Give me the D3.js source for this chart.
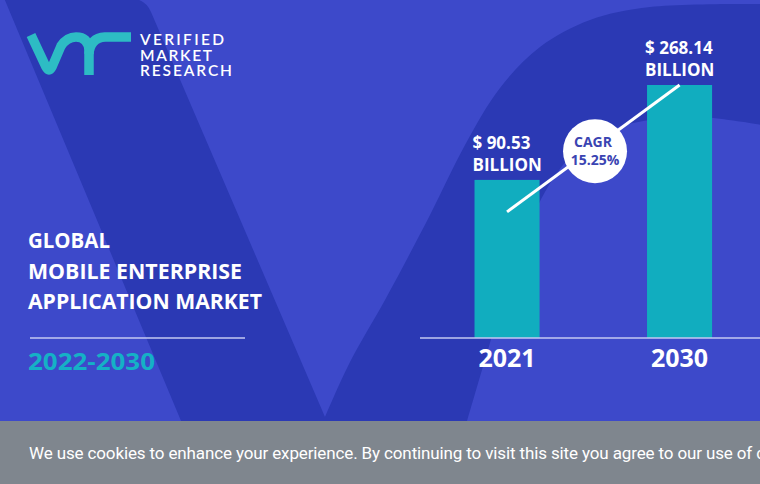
<!DOCTYPE html>
<html><head><meta charset="utf-8">
<script src="https://cdn.jsdelivr.net/npm/d3@7"></script>
<style>html,body{margin:0;padding:0;background:#3d49ca;overflow:hidden}svg{display:block}</style>
</head><body>
<script>
// ---- data ----
const years = ["2021", "2030"];
const values = [90.53, 268.14];
const valueLabels = ["$ 90.53", "$ 268.14"];
const unitLabel = "BILLION";
const cagrLabel = ["CAGR", "15.25%"];
const titleLines = ["GLOBAL", "MOBILE ENTERPRISE", "APPLICATION MARKET"];
const periodLabel = "2022-2030";
const brandLines = ["VERIFIED", "MARKET", "RESEARCH"];
const cookieText = "We use cookies to enhance your experience. By continuing to visit this site you agree to our use of cookies.";

const W = 760, H = 484;
const C = {light:"#3d49ca", dark:"#2b39b4", teal:"#11adbf", teal2:"#15b1c6", logo:"#2dbcc4", axis:"#c4c9f2", cagr:"#3a44b2", banner:"#7f868e"};

const svg = d3.select("body").append("svg").attr("width", W).attr("height", H);
svg.append("rect").attr("width", W).attr("height", H).attr("fill", C.light);

// ---- decorative V shape ----
const cr = d3.line().curve(d3.curveCatmullRom.alpha(0.5));
const outer = [[325,417],[350,362],[385,300],[430,215],[465,145],[500,88],[540,47],[590,20],[650,7],[760,4]];
const inner = [[762,125],[700,117],[650,120],[610,130],[575,152],[545,192],[520,250],[500,310],[482,370],[465,428]];
const dPath = "M4,-2 L128,-2 Q145,-2 151,12 L325,417 " + cr(outer).replace(/^M/, "L") + " L762,4 L762,125 " + cr(inner).replace(/^M/, "L") + " L184,428 Z";
svg.append("path").attr("d", dPath).attr("fill", C.dark);

// ---- scales ----
const x = d3.scaleBand().domain(years).range([420, 766.6]).paddingInner(0.623).paddingOuter(0.316);
const y = d3.scalePow().exponent(0.433).domain([0, 268.14]).range([338, 85]);

// bars
svg.selectAll("rect.bar").data(values).join("rect").attr("class","bar")
  .attr("x", (d,i) => x(years[i])).attr("width", x.bandwidth())
  .attr("y", d => y(d)).attr("height", d => y(0) - y(d)).attr("fill", C.teal);

// axis line
svg.append("line").attr("x1", 420).attr("x2", W).attr("y1", y(0)).attr("y2", y(0))
  .attr("stroke", C.axis).attr("stroke-width", 1.6);

// year labels
svg.selectAll("text.year").data(years).join("text").attr("class","year")
  .attr("x", d => x(d) + x.bandwidth()/2).attr("y", y(0) + 29)
  .attr("text-anchor","middle").attr("fill","#fff")
  .style("font", "700 25px 'Open Sans'").text(d => d);

// value labels
values.forEach((v,i) => {
  const g = svg.append("text").attr("fill","#fff").style("font","700 17px 'Open Sans'");
  g.append("tspan").attr("x", x(years[i]) - 2).attr("y", y(v) - 31).text(valueLabels[i]);
  g.append("tspan").attr("x", x(years[i]) - 2).attr("y", y(v) - 9).text(unitLabel);
});

// CAGR line & circle
const p0 = [x(years[0]) + x.bandwidth()/2, y(values[0]) + 32];
const p1 = [x(years[1]) + x.bandwidth()/2, y(values[1])];
svg.append("line").attr("x1", p0[0]).attr("y1", p0[1]).attr("x2", p1[0]).attr("y2", p1[1])
  .attr("stroke","#fff").attr("stroke-width",3);
const cx = p0[0] + (p1[0]-p0[0])*0.51, cy = p0[1] + (p1[1]-p0[1])*0.51 + 4;
svg.append("circle").attr("cx", cx).attr("cy", cy).attr("r", 32).attr("fill","#fff");
const ct = svg.append("text").attr("text-anchor","middle").attr("fill", C.cagr).style("font","700 14px 'Open Sans'");
ct.append("tspan").attr("x", cx - 2).attr("y", cy - 4).text(cagrLabel[0]);
ct.append("tspan").attr("x", cx).attr("y", cy + 14).text(cagrLabel[1]);

// ---- title block ----
const titleW = [82, 214, 234];
const tt = svg.append("text").attr("fill","#fff").style("font","700 21px 'Open Sans'");
titleLines.forEach((t,i) => {
  tt.append("tspan").attr("x", 28).attr("y", 248 + i*30.5)
    .attr("textLength", titleW[i]).attr("lengthAdjust","spacingAndGlyphs").text(t);
});
svg.append("line").attr("x1",30).attr("x2",245).attr("y1",338).attr("y2",338)
  .attr("stroke", C.axis).attr("stroke-width",1.5);
svg.append("text").attr("x",28).attr("y",370).attr("fill",C.teal2)
  .attr("textLength",127).attr("lengthAdjust","spacingAndGlyphs")
  .style("font","700 24px 'Open Sans'").text(periodLabel);

// ---- logo ----
const lg = svg.append("g").attr("fill","none").attr("stroke",C.logo).attr("stroke-width",9.5).attr("stroke-linejoin","round");
lg.append("path").attr("d","M31,35 L46,67 Q49,73 52,67 L61,46 Q67,37 76,37 Q88,37 89,50 L89,75");
lg.append("path").attr("d","M89,54 Q90,38 105,37 L131,37");
const brandW = [84, 72, 92];
const bt = svg.append("text").attr("fill","#fff").style("font","600 15.5px Lato");
brandLines.forEach((t,i) => {
  bt.append("tspan").attr("x",140).attr("y", 45 + i*15.5)
    .attr("textLength", brandW[i]).attr("lengthAdjust","spacing").text(t);
});

// ---- cookie banner ----
svg.append("rect").attr("y",421).attr("width",W).attr("height",H-421).attr("fill",C.banner);
const ck = svg.append("text").attr("x",29).attr("y",459).attr("fill","#fff")
  .style("font","400 17px Roboto").text(cookieText);
// fit letter spacing so that the visible part ends at the right edge like the reference
const n = cookieText.indexOf("of ") + 3;
const probe = svg.append("text").style("font","400 17px Roboto").text(cookieText.slice(0, n));
const pw = probe.node().getComputedTextLength(); probe.remove();
ck.style("letter-spacing", ((752 - 29 - pw) / n) + "px");
</script>
</body></html>
